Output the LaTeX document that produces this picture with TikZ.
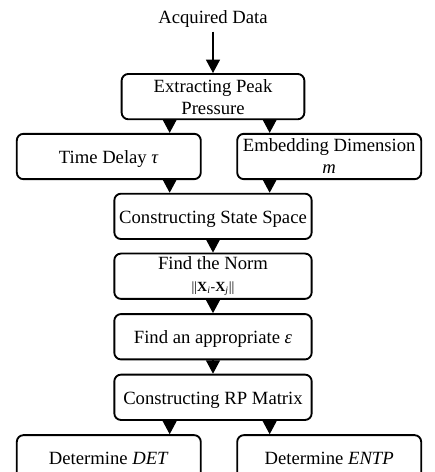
\documentclass[tikz,border=0pt]{standalone}
\usepackage{fontspec}
\setmainfont{Liberation Serif}
\usetikzlibrary{arrows.meta,positioning}

\begin{document}
\begin{tikzpicture}[
  node distance=10pt,
  every node/.style={font=\fontsize{14}{16.5}\selectfont, align=center},
  mainbox/.style={rectangle, rounded corners=5pt, draw=black, line width=1.4pt, minimum width=148pt, minimum height=34pt, inner sep=2pt, text height=13pt, text depth=2.6pt},
  sidebox/.style={mainbox, minimum width=138pt},
  twoline/.style={text height=, text depth=, inner ysep=-1.5pt, execute at begin node={\rule{0pt}{17.5pt}}},
  edge/.style={draw=black, line width=0.8pt, -{Triangle[width=10.5pt,length=10pt]}}
]
  \useasboundingbox (0,0) rectangle (326.25pt,-354pt);
  \clip (0,0) rectangle (326.25pt,-354pt);

  \node[anchor=base] (data) at (159.75pt,-17.25pt) {Acquired Data};
  \node[mainbox, twoline, minimum width=137pt, below=31pt of data] (peak) {Extracting Peak\\Pressure};
  \node[sidebox, below left=9.5pt and -60.75pt of peak] (delay) {Time Delay \textit{τ}};
  \node[sidebox, twoline, below right=9.5pt and -51.75pt of peak] (embed) {Embedding Dimension\\\textit{m}};

  \node[mainbox, below=9.5pt of {delay.south -| peak.south}] (space) {Constructing State Space};
  \node[mainbox, twoline, below=9.5pt of space] (norm) {Find the Norm\\{\fontsize{10.5}{16.5}\selectfont ||\textbf{X}\textsubscript{\textit{i}}-\textbf{X}\textsubscript{\textit{j}}||}};
  \node[mainbox, below=10pt of norm] (eps) {Find an appropriate \textit{ε}};
  \node[mainbox, below=10pt of eps] (rp) {Constructing RP Matrix};

  \node[sidebox, below=10pt of {rp.south -| delay.south}] (det) {Determine \textit{DET}};
  \node[sidebox, below=10pt of {rp.south -| embed.south}] (entp) {Determine \textit{ENTP}};

  \draw[edge] (data) -- (peak);
  \draw[edge] ([xshift=-32.5pt]peak.south) -- ([xshift=-32.5pt]peak.south |- delay.north);
  \draw[edge] ([xshift=42.5pt]peak.south) -- ([xshift=42.5pt]peak.south |- embed.north);
  \draw[edge] ([xshift=-32.5pt]space.north |- delay.south) -- ([xshift=-32.5pt]space.north);
  \draw[edge] ([xshift=42.5pt]space.north |- embed.south) -- ([xshift=42.5pt]space.north);
  \draw[edge] (space) -- (norm);
  \draw[edge] (norm) -- (eps);
  \draw[edge] (eps) -- (rp);
  \draw[edge] ([xshift=-32.5pt]rp.south) -- ([xshift=-32.5pt]rp.south |- det.north);
  \draw[edge] ([xshift=42.5pt]rp.south) -- ([xshift=42.5pt]rp.south |- entp.north);
\end{tikzpicture}
\end{document}
